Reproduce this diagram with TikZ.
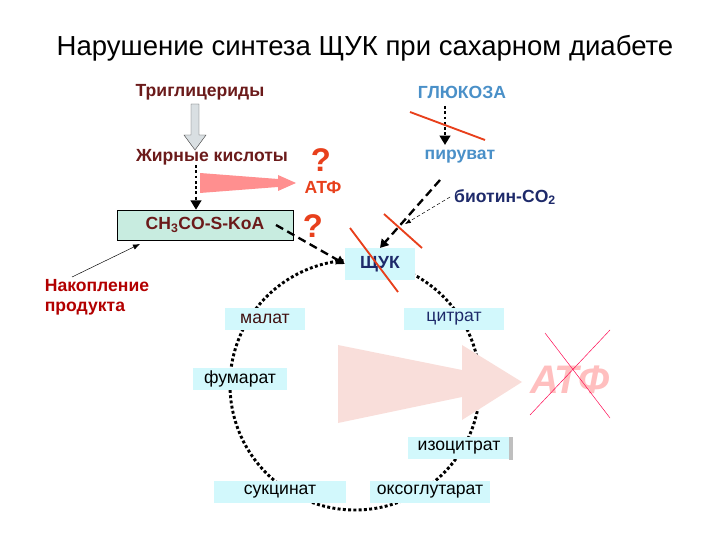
\documentclass[tikz,border=0pt]{standalone}
\usepackage{fontspec}
\setmainfont{Liberation Sans}
\usetikzlibrary{arrows.meta}
\definecolor{dred}{HTML}{6B1A1A}
\definecolor{gblue}{HTML}{4A90C8}
\definecolor{navy}{HTML}{1E2A6A}
\definecolor{oran}{HTML}{E8401C}
\definecolor{cyanb}{HTML}{D2F8FC}
\definecolor{mint}{HTML}{C8ECE0}
\definecolor{pinkf}{HTML}{F9DEDA}
\begin{document}
\begin{tikzpicture}[x=0.03cm,y=-0.03cm,
 lbl/.style={font=\fontsize{15}{17}\selectfont},
 blbl/.style={font=\fontsize{15}{17}\selectfont\bfseries},
 cyc/.style={lbl,fill=cyanb,inner sep=1pt,minimum height=0.65cm},
 strike/.style={draw=oran,line width=1.6pt},
 dotarr/.style={dotted,line width=2.5pt,-{Triangle[length=8pt,width=9pt]}},
 dasharr/.style={dash pattern=on 7pt off 4pt,line width=2pt,-{Triangle[length=7pt,width=8pt]}}]
\useasboundingbox (0,0) rectangle (720,540);
\node (title) at (365,48) {\fontsize{23.5}{26}\selectfont Нарушение синтеза ЩУК при сахарном диабете};
% cycle
\draw[dotted,line width=2.5pt] (355,385) circle (125);
\node[cyc,text=dred!60!black,minimum width=2.4cm] (mal) at (265,319) {малат};
\node[cyc,text=navy,minimum width=3cm] (cit) at (454,319) {цитрат};
\node[cyc,minimum width=2.8cm] (fum) at (240,379) {фумарат};
\node[cyc,minimum width=3.05cm] (iso) at (459,448) {изоцитрат};
\fill[gray!50] (509,437) rectangle (513,460);
\node[cyc,minimum width=3.95cm] (suc) at (280,492) {сукцинат};
\node[cyc,minimum width=3.6cm] (oxo) at (430,492) {оксоглутарат};
% big pink arrow
\fill[pinkf] (338,345) -- (462,370) -- (462,345) -- (522,382) -- (462,420) -- (462,397) -- (338,423) -- cycle;
\node[font=\fontsize{34}{36}\selectfont\itshape\bfseries,text=red!25] (atf2) at (570,380) {АТФ};
\draw[draw=red!70!magenta] (545,333) -- (610,418) (530,415) -- (610,330);
% left part
\node[blbl,text=dred] (tri) at (200,92) {Триглицериды};
\node[blbl,text=gblue] (glu) at (462,92) {ГЛЮКОЗА};
\node[blbl,text=dred] (fat) at (212,157) {Жирные кислоты};
\draw[fill=cyan!15!gray!30,draw=black!70] (191,104) -- (199,104) -- (199,135) -- (206,135) -- (195,150) -- (184,135) -- (191,135) -- cycle;
\fill[red!40!pink!80] (200,173) -- (278,179) -- (278,175) -- (296,183) -- (278,191) -- (278,187) -- (200,193) -- cycle;
\node[text=oran,font=\fontsize{28}{30}\selectfont\bfseries] (q1) at (321,160) {?};
\node[text=oran,font=\fontsize{15}{17}\selectfont\bfseries] (atf1) at (323,187) {АТФ};
\node[draw,fill=mint,minimum width=5.28cm,minimum height=0.9cm,text=dred,blbl] (acoa) at (205,225) {CH\textsubscript{3}CO-S-KoA};
\draw[dotarr] (196,165) -- (acoa.north -| 196,0);
\node[text=oran,font=\fontsize{28}{30}\selectfont\bfseries] (q2) at (313,226) {?};
\node[fill=cyanb,minimum width=2.1cm,minimum height=0.95cm,text=navy,blbl] (shuk) at (380,264) {ЩУК};
\draw[dasharr] (276,225) -- (shuk.west);
\node[text=red!70!black,blbl,align=left] (nak) at (97,297) {Накопление\\продукта};
\draw[-{Latex[length=6pt]}] (72,277) -- (140,244);
% right part
\node[blbl,text=gblue] (pir) at (460,157) {пируват};
\draw[dotarr] (445,106) -- (445,145);
\draw[strike] (410,112) -- (485,140);
\node[blbl,text=navy] (bio) at (505,197) {биотин-CO\textsubscript{2}};
\draw[dasharr] (440,180) -- (shuk.north);
\draw[dash pattern=on 3pt off 2pt,-{Latex[length=5pt]}] (bio.west) -- (405,224);
\draw[strike] (384,214) -- (422,248);
\draw[strike] (350,228) -- (398,292);
\end{tikzpicture}
\end{document}
